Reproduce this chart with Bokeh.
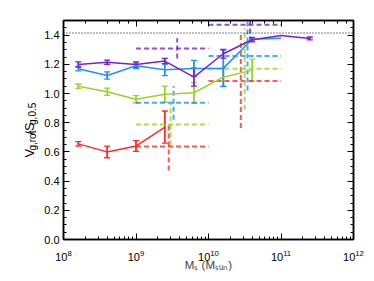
import math
from bokeh.plotting import figure
from bokeh.layouts import row
from bokeh.models import (Range1d, LinearAxis, LogAxis, Span, Whisker, TeeHead,
                          ColumnDataSource, Label, FixedTicker, PrintfTickFormatter,
                          CustomJSTickFormatter)
from bokeh.embed import file_html
from bokeh.resources import INLINE

# ---------------- data ----------------
mass = [1.6e8, 4.0e8, 1.0e9, 2.5e9, 6.3e9, 1.6e10, 4.0e10, 1.0e11, 2.5e11]

red_y = [0.655, 0.600, 0.640, 0.770]
red_err = [0.015, 0.040, 0.037, 0.110]
green_y = [1.050, 1.012, 0.960, 0.995, 1.005, 1.112, 1.160]
green_err = [0.015, 0.025, 0.025, 0.055, 0.070, 0.060, 0.075]
blue_y = [1.170, 1.123, 1.190, 1.162, 1.172, 1.172, 1.372, 1.378]
blue_err = [0.015, 0.025, 0.020, 0.040, 0.055, 0.125, 0.012, 0.0]
purple_y = [1.198, 1.214, 1.198, 1.222, 1.112, 1.272, 1.368, 1.398, 1.377]
purple_err = [0.018, 0.015, 0.018, 0.018, 0.062, 0.030, 0.015, 0.0, 0.010]

bin_edges = [1e9, 1e10, 1e11]
red_med_mass = [2.83e9, 2.79e10]
red_med = [0.637, 1.086]
red_sig = [0.165, 0.323]
green_med_mass = [3.0e9, 3.15e10]
green_med = [0.788, 1.169]
green_sig = [0.143, 0.280]
blue_med_mass = [3.3e9, 3.45e10]
blue_med = [0.936, 1.256]
blue_sig = [0.115, 0.235]
purple_med_mass = [3.7e9, 3.75e10]
purple_med = [1.309, 1.471]
purple_sig = [0.070, 0.115]

ref_level = math.sqrt(2.0)
y_ticks = [0.0, 0.2, 0.4, 0.6, 0.8, 1.0, 1.2, 1.4]
y_minor = [i * 0.05 for i in range(31)]
x_title = "M\u209b (M\u209b\u1d64\u2099)"

RED, GREEN, BLUE, PURPLE = "#ff2b2b", "#9dd22a", "#2090ff", "#7f1fcf"
FONT = "Liberation Sans"

# ---------------- main figure ----------------
YW = 41                       # width of the strip holding the y title
ML, MR, MT, MB = 21, 15, 20, 37
FW, FH = 291, 219
W, H = ML + FW + MR, MT + FH + MB
XMIN, XMAX, YMIN, YMAX = 1e8, 1e12, 0.0, 1.5

p = figure(width=W, height=H, x_axis_type="log", output_backend="svg",
           toolbar_location=None, x_range=Range1d(XMIN, XMAX),
           y_range=Range1d(YMIN, YMAX),
           min_border_left=ML, min_border_right=MR, min_border_top=MT,
           min_border_bottom=MB)
p.grid.visible = False
p.outline_line_color = "black"
p.outline_line_width = 1.5
p.background_fill_color = "white"
p.border_fill_color = "white"


def style_axis(ax, labels=True, standoff=4):
    ax.major_tick_in = 6
    ax.major_tick_out = 0
    ax.minor_tick_in = 3
    ax.minor_tick_out = 0
    ax.axis_line_color = "black"
    ax.axis_line_width = 1.5
    ax.major_tick_line_width = 1
    ax.minor_tick_line_width = 1
    ax.major_label_text_font = FONT
    ax.major_label_text_font_size = "11px"
    ax.major_label_text_color = "black"
    ax.major_label_standoff = standoff if labels else 0
    if not labels:
        ax.formatter = CustomJSTickFormatter(code="return ''")


style_axis(p.xaxis[0], standoff=10)
style_axis(p.yaxis[0], standoff=4)
p.yaxis[0].ticker = FixedTicker(ticks=y_ticks, minor_ticks=y_minor)
p.yaxis[0].formatter = PrintfTickFormatter(format="%.1f")
p.xaxis[0].axis_label = x_title
p.xaxis[0].axis_label_text_font = FONT
p.xaxis[0].axis_label_text_font_size = "11.5px"
p.xaxis[0].axis_label_text_font_style = "normal"
p.xaxis[0].axis_label_standoff = -5

top_ax = LogAxis()
style_axis(top_ax, labels=False)
p.add_layout(top_ax, "above")
right_ax = LinearAxis(ticker=FixedTicker(ticks=y_ticks, minor_ticks=y_minor))
style_axis(right_ax, labels=False)
p.add_layout(right_ax, "right")

p.add_layout(Span(location=ref_level, dimension="width", line_color="black",
                  line_dash="1 2", line_width=1))


def series(xs, ys, errs, color):
    x = xs[:len(ys)]
    p.line(x, ys, line_color=color, line_width=1.5)
    src = ColumnDataSource(dict(x=[a for a, e in zip(x, errs) if e > 0],
                                up=[y + e for y, e in zip(ys, errs) if e > 0],
                                lo=[y - e for y, e in zip(ys, errs) if e > 0]))
    p.add_layout(Whisker(source=src, base="x", upper="up", lower="lo",
                         line_color=color, line_width=1.8,
                         upper_head=TeeHead(size=6, line_color=color, line_width=1.3),
                         lower_head=TeeHead(size=6, line_color=color, line_width=1.3)))


def crosses(mm, med, sig, color):
    p.segment(x0=bin_edges[:-1], x1=bin_edges[1:], y0=med, y1=med,
              line_color=color, line_width=2, line_dash="5 3", line_alpha=0.8)
    p.segment(x0=mm, x1=mm, y0=[m - s for m, s in zip(med, sig)],
              y1=[m + s for m, s in zip(med, sig)],
              line_color=color, line_width=2, line_dash="5 3", line_alpha=0.8)


crosses(red_med_mass, red_med, red_sig, RED)
crosses(green_med_mass, green_med, green_sig, GREEN)
crosses(blue_med_mass, blue_med, blue_sig, BLUE)
crosses(purple_med_mass, purple_med, purple_sig, PURPLE)

series(mass, red_y, red_err, RED)
series(mass, green_y, green_err, GREEN)
series(mass, blue_y, blue_err, BLUE)
series(mass, purple_y, purple_err, PURPLE)

# ---------------- y title strip ----------------
yf = figure(width=YW, height=H, output_backend="svg", toolbar_location=None,
            x_range=Range1d(0, YW), y_range=Range1d(0, H),
            min_border=0, outline_line_color=None)
yf.axis.visible = False
yf.grid.visible = False

YM, YS = 13, 10
em2 = {"V": 0.667, "S": 0.667, "/": 0.278, "g": 0.556, ",": 0.278, "r": 0.333,
       "o": 0.556, "t": 0.278, "0": 0.556, ".": 0.278, "5": 0.556}
ypieces = [("V", YM, 0), ("g,rot", YS, 2.5), ("/S", YM, 0), ("g,0.5", YS, 2.5)]
yw = [sum(em2[c] for c in t) * s for t, s, _ in ypieces]
base_x = 29
cur = (H - 141) - sum(yw) / 2
for (t, s, dx), w in zip(ypieces, yw):
    yf.add_layout(Label(x=base_x + dx, y=cur, text=t, angle=math.pi / 2,
                        text_font=FONT, text_font_size=f"{s}px",
                        text_color="black", text_align="left",
                        text_baseline="alphabetic"))
    cur += w

layout = row(yf, p, spacing=0)
open("out.html", "w").write(file_html(layout, INLINE))
